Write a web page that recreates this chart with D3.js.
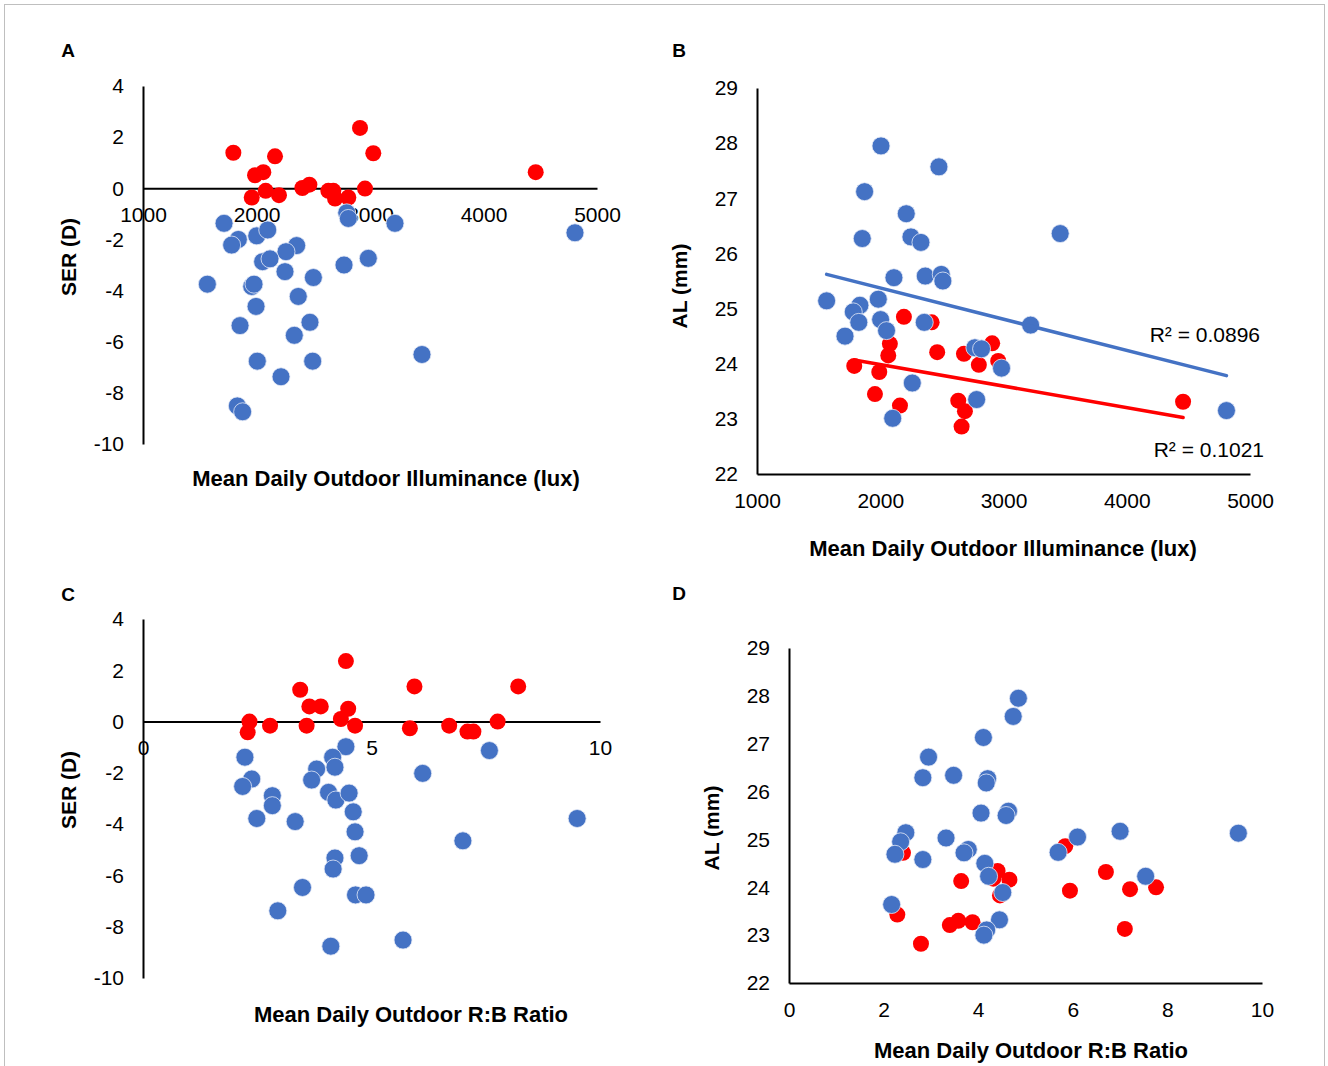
<!DOCTYPE html>
<html>
<head>
<meta charset="utf-8">
<script src="https://cdn.jsdelivr.net/npm/d3@7"></script>
<style>
  body { margin: 0; background: #fff; }
  svg { display: block; font-family: "Liberation Sans", Arial, sans-serif; }
</style>
</head>
<body>
<svg id="chart" width="1328" height="1066"></svg>
<script>
// tick labels
const illumTicks = [1000, 2000, 3000, 4000, 5000];
const ratioTicksC = [0, 5, 10];
const ratioTicksD = [0, 2, 4, 6, 8, 10];
const serTicks = [4, 2, 0, -2, -4, -6, -8, -10];
const alTicks = [22, 23, 24, 25, 26, 27, 28, 29];

// A: SER vs illuminance  [lux, D]
const serIllumRed = [[1796, 1.39], [1987, 0.51], [2060, 0.63], [2163, 1.25], [1958, -0.36], [2081, -0.10],
  [2198, -0.27], [2404, 0.01], [2466, 0.14], [2633, -0.10], [2677, -0.10], [2692, -0.40], [2809, -0.36],
  [2912, 2.36], [2956, -0.01], [3029, 1.37], [4460, 0.63]];
const serIllumBlue = [[1714, -1.37], [1840, -2.00], [1781, -2.22], [2002, -1.86], [2099, -1.63], [2795, -0.96],
  [2809, -1.18], [2354, -2.24], [2260, -2.48], [2054, -2.87], [2119, -2.76], [2251, -3.26], [2501, -3.49],
  [2771, -3.00], [2985, -2.74], [1567, -3.75], [1958, -3.84], [1978, -3.75], [2368, -4.23], [1996, -4.62],
  [1855, -5.37], [2471, -5.24], [2333, -5.75], [2007, -6.76], [2495, -6.76], [2216, -7.37], [1831, -8.51],
  [1878, -8.74], [3220, -1.37], [4806, -1.74], [3458, -6.50]];

// B: AL vs illuminance  [lux, mm]
const alIllumRed = [[2192, 24.85], [2417, 24.75], [2078, 24.36], [2065, 24.15], [2462, 24.21], [2679, 24.18],
  [2908, 24.37], [2957, 24.05], [2800, 23.98], [1789, 23.96], [1992, 23.85], [1957, 23.45], [2160, 23.24],
  [2633, 23.33], [2687, 23.14], [2660, 22.86], [4457, 23.31]];
const alIllumBlue = [[2006, 27.95], [2476, 27.57], [1873, 27.12], [2211, 26.72], [1854, 26.27], [2249, 26.30],
  [2330, 26.20], [2111, 25.56], [2365, 25.59], [2495, 25.62], [2508, 25.50], [1565, 25.14], [1984, 25.17],
  [1835, 25.06], [1781, 24.94], [2003, 24.80], [1826, 24.75], [2051, 24.60], [1714, 24.50], [2357, 24.75],
  [3220, 24.70], [2768, 24.29], [2822, 24.27], [2984, 23.92], [2260, 23.65], [2101, 23.01], [2782, 23.35],
  [3460, 26.36], [4809, 23.15]];
// linear trendlines as shown in panel B: [slope per lux, intercept mm]
// (some points are hidden behind others, so the fit is read off the picture)
const trendBlue = [-0.000566, 26.506];
const trendRed = [-0.000392, 24.77];
const r2Labels = ['R² = 0.0896', 'R² = 0.1021'];

// C: SER vs R:B ratio
const serRatioRed = [[2.33, 0.00], [2.29, -0.42], [2.78, -0.16], [3.44, 1.24], [3.64, 0.59], [3.89, 0.59],
  [3.58, -0.16], [4.44, 2.36], [4.49, 0.50], [4.33, 0.10], [4.64, -0.16], [5.94, 1.37], [5.84, -0.26],
  [6.70, -0.16], [7.10, -0.39], [7.23, -0.39], [7.76, 0.00], [8.21, 1.37]];
const serRatioBlue = [[4.44, -0.98], [2.23, -1.39], [4.15, -1.39], [4.20, -1.78], [3.80, -1.85], [3.69, -2.28],
  [2.38, -2.24], [2.18, -2.53], [2.83, -2.89], [2.83, -3.28], [4.06, -2.76], [4.22, -3.06], [4.51, -2.79],
  [4.60, -3.52], [2.49, -3.78], [3.33, -3.90], [4.64, -4.30], [7.58, -1.13], [6.12, -2.02], [9.50, -3.78],
  [7.00, -4.65], [4.73, -5.23], [4.20, -5.32], [4.16, -5.75], [3.49, -6.47], [4.65, -6.76], [4.88, -6.76],
  [4.11, -8.76], [5.69, -8.52], [2.95, -7.38]];

// D: AL vs R:B ratio
const alRatioRed = [[2.41, 24.72], [4.41, 24.34], [4.66, 24.16], [4.32, 24.18], [4.46, 23.83], [3.64, 24.13],
  [2.29, 23.43], [3.40, 23.21], [3.58, 23.30], [3.88, 23.27], [2.79, 22.82], [5.84, 24.86], [6.70, 24.32],
  [5.94, 23.93], [7.21, 23.96], [7.76, 24.00], [7.10, 23.13]];
const alRatioBlue = [[4.85, 27.95], [4.74, 27.57], [4.11, 27.13], [2.95, 26.72], [2.83, 26.29], [3.48, 26.34],
  [4.20, 26.27], [4.17, 26.18], [4.06, 25.55], [4.64, 25.59], [4.59, 25.50], [2.47, 25.14], [2.36, 24.95],
  [2.24, 24.69], [3.32, 25.03], [2.83, 24.58], [3.79, 24.79], [3.70, 24.72], [4.14, 24.50], [4.22, 24.23],
  [4.52, 23.89], [2.17, 23.64], [4.45, 23.32], [4.18, 23.11], [4.12, 23.00], [6.10, 25.05], [5.69, 24.73],
  [7.00, 25.17], [9.50, 25.13], [7.54, 24.23]];

const palette = { blue: '#4472c4', red: '#ff0000', axis: '#000' };
const FONT = '"Liberation Sans", Arial, sans-serif';

const svg = d3.select('#chart');

// outer frame
svg.append('rect')
  .attr('x', 4.5).attr('y', 4.5).attr('width', 1320).attr('height', 1070)
  .attr('fill', 'none').attr('stroke', '#bfbfbf');

const panels = [
  {
    letter: 'A', letterPos: [68, 50],
    x: { domain: [1000, 5000], range: [143, 597], ticks: illumTicks, pad: 18.5, title: 'Mean Daily Outdoor Illuminance (lux)', titlePos: [386, 478] },
    y: { domain: [-10, 4], range: [444, 86], ticks: serTicks, title: 'SER (D)', titlePos: [68, 257] },
    crossAt: 0, red: serIllumRed, blue: serIllumBlue,
  },
  {
    letter: 'B', letterPos: [679, 50],
    x: { domain: [1000, 5000], range: [757, 1250], ticks: illumTicks, pad: 19.5, title: 'Mean Daily Outdoor Illuminance (lux)', titlePos: [1003, 548] },
    y: { domain: [22, 29], range: [474, 88], ticks: alTicks, title: 'AL (mm)', titlePos: [679, 286] },
    crossAt: 22, red: alIllumRed, blue: alIllumBlue,
    trends: [[alIllumBlue, trendBlue, palette.blue], [alIllumRed, trendRed, palette.red]],
  },
  {
    letter: 'C', letterPos: [68, 594],
    x: { domain: [0, 10], range: [143, 600], ticks: ratioTicksC, pad: 18.5, title: 'Mean Daily Outdoor R:B Ratio', titlePos: [411, 1014] },
    y: { domain: [-10, 4], range: [978, 619], ticks: serTicks, title: 'SER (D)', titlePos: [68, 790] },
    crossAt: 0, red: serRatioRed, blue: serRatioBlue,
  },
  {
    letter: 'D', letterPos: [679, 593],
    x: { domain: [0, 10], range: [789, 1262], ticks: ratioTicksD, pad: 19.5, title: 'Mean Daily Outdoor R:B Ratio', titlePos: [1031, 1050] },
    y: { domain: [22, 29], range: [983, 648], ticks: alTicks, title: 'AL (mm)', titlePos: [711, 828] },
    crossAt: 22, red: alRatioRed, blue: alRatioBlue,
  },
];

panels.forEach((p) => {
  const g = svg.append('g');
  const x = d3.scaleLinear().domain(p.x.domain).range(p.x.range);
  const y = d3.scaleLinear().domain(p.y.domain).range(p.y.range);
  const x0 = x(p.x.domain[0]);
  const yCross = y(p.crossAt);

  // y axis: line plus labels, no tick marks
  const yAxis = d3.axisLeft(y).tickValues(p.y.ticks).tickSize(0).tickPadding(19).tickFormat(d3.format('d'));
  g.append('g').attr('transform', `translate(${x0},0)`).call(yAxis)
    .call(a => a.select('.domain').attr('stroke', palette.axis).attr('stroke-width', 2))
    .call(a => a.selectAll('text').attr('font-size', 21).attr('fill', '#000')
      .attr('font-family', FONT).text(d => String(d)));

  // x axis: labels sit just below the line that crosses at crossAt
  const xAxis = d3.axisBottom(x).tickValues(p.x.ticks).tickSize(0).tickPadding(p.x.pad).tickFormat(d3.format('d'));
  g.append('g').attr('transform', `translate(0,${yCross})`).call(xAxis)
    .call(a => a.select('.domain').attr('stroke', palette.axis).attr('stroke-width', 2))
    .call(a => a.selectAll('text').attr('font-size', 21).attr('fill', '#000')
      .attr('font-family', FONT));

  // titles
  g.append('text').attr('x', p.letterPos[0]).attr('y', p.letterPos[1])
    .attr('text-anchor', 'middle').attr('dominant-baseline', 'central')
    .attr('font-size', 19).attr('font-weight', 'bold').text(p.letter);
  g.append('text').attr('x', p.x.titlePos[0]).attr('y', p.x.titlePos[1])
    .attr('text-anchor', 'middle').attr('dominant-baseline', 'central')
    .attr('font-size', 22).attr('font-weight', 'bold').text(p.x.title);
  g.append('text')
    .attr('transform', `translate(${p.y.titlePos[0]},${p.y.titlePos[1]}) rotate(-90)`)
    .attr('text-anchor', 'middle').attr('dominant-baseline', 'central')
    .attr('font-size', 21).attr('font-weight', 'bold').text(p.y.title);

  // points: red first, blue on top
  g.append('g').selectAll('circle').data(p.red).join('circle')
    .attr('cx', d => x(d[0])).attr('cy', d => y(d[1])).attr('r', 8)
    .attr('fill', palette.red);
  g.append('g').selectAll('circle').data(p.blue).join('circle')
    .attr('cx', d => x(d[0])).attr('cy', d => y(d[1])).attr('r', 9)
    .attr('fill', palette.blue).attr('stroke', '#e4eaf6').attr('stroke-width', 0.8);

  if (p.trends) {
    // each trendline spans its own series' x range
    p.trends.forEach(([pts, [b, a], col]) => {
      const ext = d3.extent(pts, d => d[0]);
      g.append('line')
        .attr('x1', x(ext[0])).attr('y1', y(a + b * ext[0]))
        .attr('x2', x(ext[1])).attr('y2', y(a + b * ext[1]))
        .attr('stroke', col).attr('stroke-width', 3.5).attr('stroke-linecap', 'round');
    });
    g.append('text').attr('x', 1260).attr('y', 334).attr('text-anchor', 'end')
      .attr('dominant-baseline', 'central').attr('font-size', 21).text(r2Labels[0]);
    g.append('text').attr('x', 1264).attr('y', 449).attr('text-anchor', 'end')
      .attr('dominant-baseline', 'central').attr('font-size', 21).text(r2Labels[1]);
  }
});
</script>
</body>
</html>
